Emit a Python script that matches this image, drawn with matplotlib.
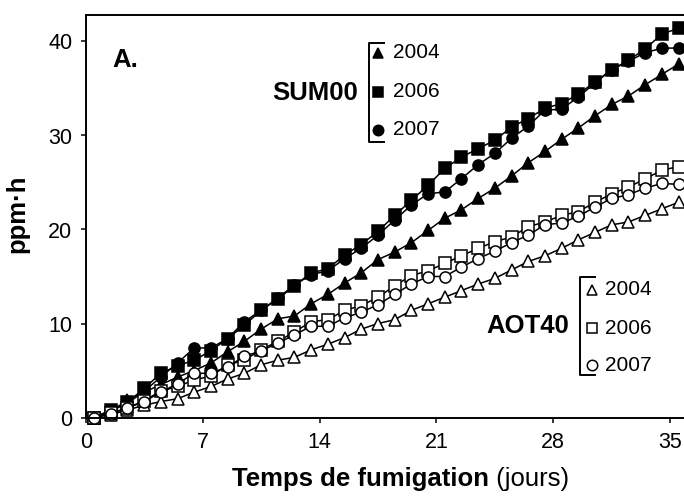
import matplotlib
matplotlib.use('Agg')
import matplotlib.pyplot as plt

plt.rcParams['font.family'] = ['Liberation Sans', 'DejaVu Sans']

# jours de fumigation (milieu de chaque jour)
jours = [0.5, 1.5, 2.5, 3.5, 4.5, 5.5, 6.5, 7.5, 8.5, 9.5, 10.5, 11.5,
         12.5, 13.5, 14.5, 15.5, 16.5, 17.5, 18.5, 19.5, 20.5, 21.5, 22.5, 23.5,
         24.5, 25.5, 26.5, 27.5, 28.5, 29.5, 30.5, 31.5, 32.5, 33.5, 34.5, 35.5]

# SUM00 cumulé (ppm.h)
sum00_2004 = [0, 0.6, 1.9, 2.7, 3.5, 4.3, 5.0, 5.8, 7.0, 8.1, 9.4, 10.5,
              10.8, 12.1, 13.1, 14.3, 15.4, 16.8, 17.6, 18.6, 19.9, 21.2, 22.1, 23.3,
              24.4, 25.7, 27.1, 28.3, 29.6, 30.8, 32.1, 33.3, 34.2, 35.4, 36.5, 37.6]
sum00_2006 = [0, 0.8, 1.6, 3.1, 4.7, 5.5, 6.1, 7.1, 8.4, 9.8, 11.4, 12.6,
              14.0, 15.4, 15.8, 17.3, 18.4, 19.8, 21.5, 23.1, 24.7, 26.5, 27.7, 28.6,
              29.5, 30.9, 31.8, 32.9, 33.4, 34.4, 35.7, 37.0, 38.0, 39.2, 40.8, 41.4]
sum00_2007 = [0, 0.7, 1.5, 2.8, 4.3, 5.8, 7.4, 7.4, 8.4, 10.2, 11.4, 12.7,
              14.1, 15.2, 15.6, 16.9, 18.0, 19.4, 21.0, 22.6, 23.8, 24.0, 25.4, 26.9,
              28.1, 29.7, 31.0, 32.7, 32.8, 34.1, 35.6, 37.0, 37.9, 38.8, 39.3, 39.3]

# AOT40 cumulé (ppm.h)
aot40_2004 = [0, 0.3, 0.8, 1.3, 1.7, 2.0, 2.7, 3.3, 4.1, 4.7, 5.6, 6.1,
              6.4, 7.2, 7.8, 8.5, 9.4, 10.0, 10.4, 11.4, 12.1, 12.8, 13.5, 14.2,
              14.8, 15.7, 16.6, 17.2, 18.0, 18.9, 19.7, 20.5, 20.8, 21.5, 22.2, 22.9]
aot40_2006 = [0, 0.5, 1.0, 1.8, 2.8, 3.3, 4.0, 4.4, 5.6, 6.1, 7.2, 8.1,
              9.1, 10.2, 10.4, 11.4, 11.9, 12.8, 14.0, 15.1, 15.6, 16.4, 17.2, 18.0,
              18.7, 19.2, 20.3, 20.8, 21.5, 21.9, 22.9, 23.8, 24.5, 25.4, 26.3, 26.7]
aot40_2007 = [0, 0.4, 1.0, 1.7, 2.7, 3.6, 4.7, 4.7, 5.4, 6.5, 7.1, 7.9,
              8.8, 9.7, 9.7, 10.6, 11.2, 12.0, 13.1, 14.2, 15.0, 15.0, 16.0, 16.9,
              17.7, 18.6, 19.4, 20.5, 20.7, 21.4, 22.4, 23.3, 23.7, 24.4, 24.9, 24.8]

annees = ['2004', '2006', '2007']
marqueurs = ['^', 's', 'o']

fig = plt.figure(figsize=(6.84, 4.98), dpi=100)
ax = fig.add_axes([85.7 / 684, 80.5 / 498, 1 - 85.7 / 684, 402.5 / 498])

style = dict(color='black', lw=1.1, mec='black', mew=1.1, ms=8, clip_on=False)
for serie, m in zip([sum00_2004, sum00_2006, sum00_2007], marqueurs):
    ax.plot(jours, serie, marker=m, mfc='black', **style)
for serie, m in zip([aot40_2004, aot40_2006, aot40_2007], marqueurs):
    ax.plot(jours, serie, marker=m, mfc='white', **style)

ax.set_xlim(0, (684 - 85.7) / 16.7)
ax.set_ylim(0, 402.5 / 9.4)
ax.set_xticks([0, 7, 14, 21, 28, 35])
ax.set_yticks([0, 10, 20, 30, 40])
ax.tick_params(direction='out', length=3.6, width=1.1, labelsize=15.5)
ax.tick_params(axis='x', pad=7)
ax.tick_params(axis='y', pad=6)
ax.spines['right'].set_visible(False)
for s in ['left', 'bottom', 'top']:
    ax.spines[s].set_linewidth(1.4)

# légendes en crochets
def groupe(nom, x_barre, y_haut, y_bas, x_marq, x_txt, rangs, plein):
    tr = ax.transAxes
    ax.plot([x_barre + 0.025, x_barre, x_barre, x_barre + 0.025],
            [y_haut, y_haut, y_bas, y_bas], color='black', lw=1.4,
            transform=tr, clip_on=False)
    for y, m, a in zip(rangs, marqueurs, annees):
        ax.plot([x_marq], [y], marker=m, ms=7.5, mec='black', mew=1.1,
                mfc='black' if plein else 'white', transform=tr, clip_on=False)
        ax.text(x_txt, y, a, fontsize=15, va='center', ha='left', transform=tr)
    ax.text(x_barre - 0.019, (y_haut + y_bas) / 2, nom, fontsize=18.5,
            fontweight='bold', ha='right', va='center', transform=tr)

groupe('SUM00', 0.4735, 0.9304, 0.6845, 0.4885, 0.5136,
       [0.9056, 0.8087, 0.7143], True)
groupe('AOT40', 0.8262, 0.3491, 0.1056, 0.8457, 0.8679,
       [0.3168, 0.2216, 0.1304], False)

ax.text(0.044, 0.871, 'A.', fontsize=18.5, fontweight='bold',
        va='baseline', ha='left', transform=ax.transAxes)

fig.text(17 / 684, 1 - 213.5 / 498, 'ppm·h', rotation=90, fontsize=18.5,
         fontweight='bold', ha='center', va='center')
t1 = fig.text(232 / 684, 12 / 498, 'Temps de fumigation', fontsize=18.5,
              fontweight='bold', ha='left', va='baseline')
ax.annotate(' (jours)', xy=(1, 0), xycoords=t1, fontsize=18.5,
            ha='left', va='bottom', annotation_clip=False)

fig.savefig('out.png', dpi=100)
